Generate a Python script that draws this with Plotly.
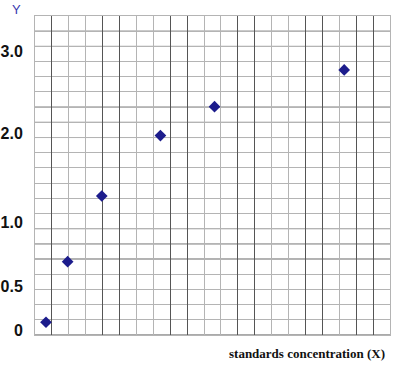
import plotly.graph_objects as go

# data in grid-square units (21 x 21 grid)
x_vals = [0.65, 1.93, 3.95, 7.42, 10.62, 18.29]
y_vals = [0.84, 4.83, 9.15, 13.13, 15.03, 17.45]

# y tick labels as printed on the sheet and where they sit
ytick_pos = [0.33, 3.18, 7.42, 13.3, 18.65]
ytick_text = ["0", "0.5", "1.0", "2.0", "3.0"]

# heavier grid lines
dark_x = [1, 4, 5, 8, 9, 12, 13, 16, 17, 19, 20]
dark_y = [0, 5, 6, 7, 13, 14, 15, 19, 20]

DARK = "#555555"
LIGHT = "#b4b4b4"

fig = go.Figure()
fig.add_trace(go.Scatter(
    x=x_vals, y=y_vals, mode="markers",
    marker=dict(symbol="diamond", size=9, color="#1c1c8c"),
    showlegend=False, hoverinfo="skip"))

shapes = []
for yy in dark_y:
    shapes.append(dict(type="line", xref="paper", yref="y", x0=0, x1=1,
                       y0=yy, y1=yy, line=dict(color=DARK, width=1), layer="below"))

fig.update_layout(
    template="none",
    width=403, height=379,
    margin=dict(l=35, r=13, t=16, b=44, autoexpand=False),
    paper_bgcolor="white", plot_bgcolor="white",
    shapes=shapes,
    xaxis=dict(range=[0, 21], tickmode="array", tickvals=dark_x, automargin=False,
               showticklabels=False, ticks="", showgrid=True,
               gridcolor=DARK, gridwidth=1, zeroline=False,
               showline=True, mirror=True, linecolor=LIGHT, linewidth=1,
               minor=dict(dtick=1, tick0=0, showgrid=True, gridcolor=LIGHT, gridwidth=1),
               fixedrange=True),
    yaxis=dict(range=[0, 21], tickmode="array", tickvals=ytick_pos, automargin=False,
               ticktext=ytick_text, ticks="", showgrid=False,
               ticklabelstandoff=8,
               tickfont=dict(family="Liberation Sans", size=16, color="#111111", weight="bold"),
               zeroline=False, showline=True, mirror=True, linecolor=LIGHT, linewidth=1,
               minor=dict(dtick=1, tick0=0, showgrid=True, gridcolor=LIGHT, gridwidth=1),
               fixedrange=True),
    annotations=[
        dict(text="Y", xref="paper", yref="paper", x=(16 - 35) / 355, y=(335 - 10) / 319,
             xanchor="center", yanchor="middle", showarrow=False,
             font=dict(family="Liberation Sans", size=13, color="#3a3ab0")),
        dict(text="<b>standards concentration (X)</b>", xref="paper", yref="paper",
             x=(387 - 35) / 355, y=(335 - 353) / 319,
             xanchor="right", yanchor="middle", showarrow=False,
             font=dict(family="Liberation Serif", size=13, color="#111111")),
    ],
)

fig.write_html("out.html")
